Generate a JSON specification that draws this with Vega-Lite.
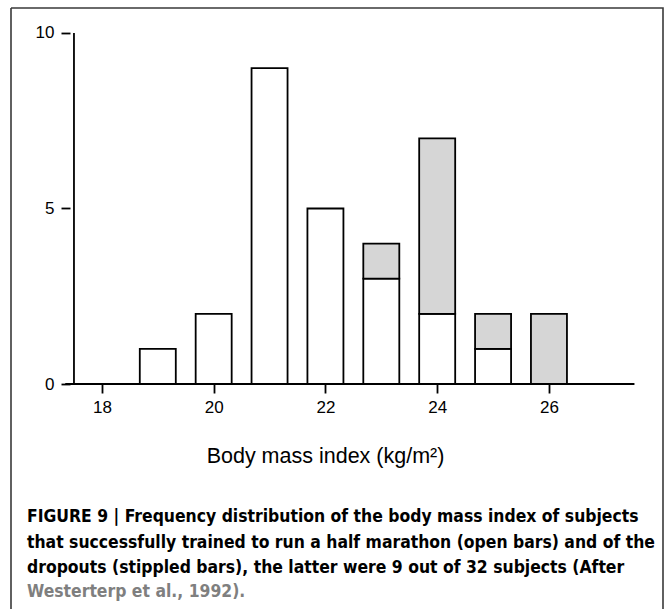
{
  "$schema": "https://vega.github.io/schema/vega-lite/v6.json",
  "width": 652,
  "height": 601,
  "autosize": {"type": "none"},
  "padding": {"left": 11, "top": 8, "right": 3, "bottom": 0},
  "background": "white",
  "config": {
    "view": {"stroke": "#3a3a3a", "strokeWidth": 1.6, "strokeDash": [1253, 652, 601, 0]},
    "axis": {"grid": false, "domain": false, "tickColor": "black", "tickWidth": 1.8, "tickSize": 9,
             "labelFont": "Liberation Sans", "labelFontSize": 17, "labelColor": "black",
             "titleFont": "Liberation Sans", "titleFontSize": 21.5, "titleFontWeight": "normal", "titleColor": "black"}
  },
  "title": {
    "text": ["FIGURE 9 | Frequency distribution of the body mass index of subjects", "that successfully trained to run a half marathon (open bars) and of the", "dropouts (stippled bars), the latter were 9 out of 32 subjects (After"],
    "subtitle": "Westerterp et al., 1992).",
    "orient": "bottom",
    "anchor": "start",
    "frame": "group",
    "offset": -101,
    "dx": 16,
    "font": "DejaVu Sans Condensed, Liberation Sans",
    "fontSize": 17.4,
    "fontWeight": "bold",
    "color": "black",
    "lineHeight": 25.5,
    "subtitleFont": "DejaVu Sans Condensed, Liberation Sans",
    "subtitleFontSize": 17.4,
    "subtitleFontWeight": "bold",
    "subtitleColor": "#7f7f7f",
    "subtitlePadding": 7
  },
  "data": {
    "values": [
      {"bmi": 19, "group": "successful", "n": 1},
      {"bmi": 20, "group": "successful", "n": 2},
      {"bmi": 21, "group": "successful", "n": 9},
      {"bmi": 22, "group": "successful", "n": 5},
      {"bmi": 23, "group": "successful", "n": 3},
      {"bmi": 23, "group": "dropout", "n": 1},
      {"bmi": 24, "group": "successful", "n": 2},
      {"bmi": 24, "group": "dropout", "n": 5},
      {"bmi": 25, "group": "successful", "n": 1},
      {"bmi": 25, "group": "dropout", "n": 1},
      {"bmi": 26, "group": "dropout", "n": 2}
    ]
  },
  "layer": [
    {
      "mark": {"type": "bar", "width": 36, "stroke": "black", "strokeWidth": 1.8},
      "encoding": {
        "x": {
          "field": "bmi", "type": "quantitative",
          "scale": {"domain": [16.4626, 27.9515], "nice": false, "zero": false},
          "axis": {"orient": "bottom", "offset": -225, "values": [18, 20, 22, 24, 26], "format": "d", "labelPadding": 6,
                   "title": "Body mass index (kg/m²)", "titlePadding": 30, "titleX": 314, "titleAnchor": "middle"}
        },
        "y": {
          "field": "n", "type": "quantitative", "stack": "zero",
          "scale": {"domain": [-6.41, 10.712], "nice": false, "zero": false},
          "axis": {"orient": "left", "offset": -59, "values": [0, 5, 10], "format": "d", "labelPadding": 7, "title": null}
        },
        "fill": {
          "field": "group", "type": "nominal",
          "scale": {"domain": ["successful", "dropout"], "range": ["white", "#d6d6d6"]},
          "legend": null
        },
        "order": {"field": "group", "sort": "descending"}
      }
    },
    {
      "data": {"values": [{}]},
      "mark": {"type": "rule", "color": "black", "strokeWidth": 1.8},
      "encoding": {
        "x": {"datum": 17.5, "type": "quantitative"},
        "y": {"datum": 0, "type": "quantitative"},
        "y2": {"datum": 10}
      }
    },
    {
      "data": {"values": [{}]},
      "mark": {"type": "rule", "color": "black", "strokeWidth": 1.8},
      "encoding": {
        "y": {"datum": 0, "type": "quantitative"},
        "x": {"datum": 17.344, "type": "quantitative"},
        "x2": {"datum": 27.53}
      }
    }
  ]
}
